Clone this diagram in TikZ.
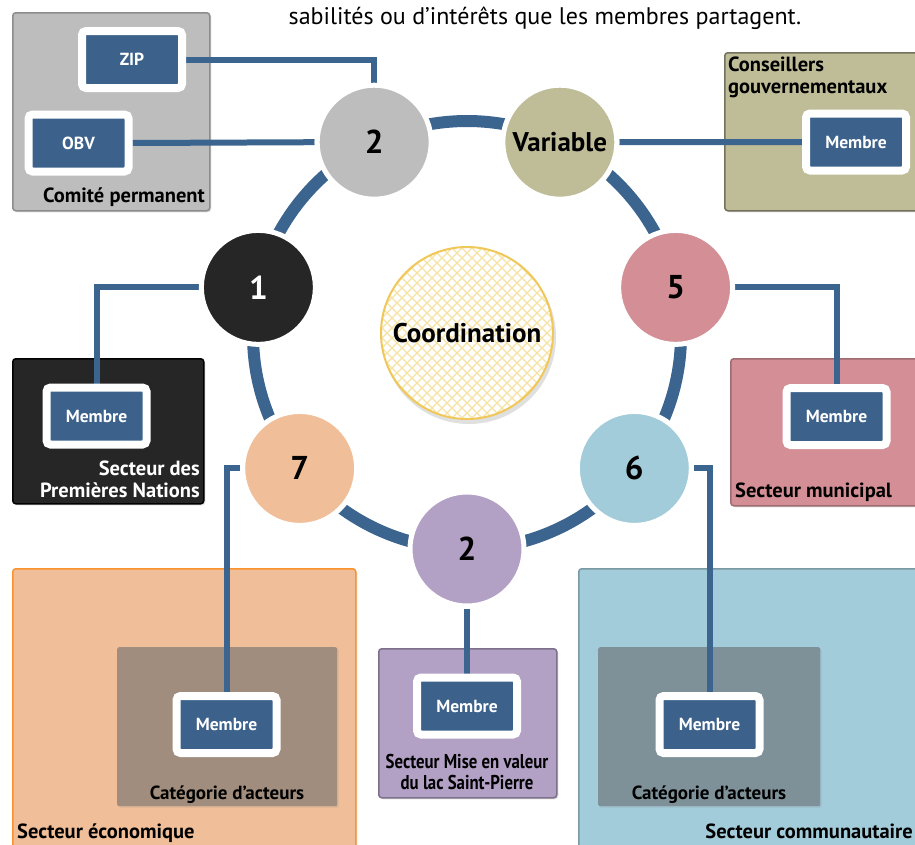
\documentclass[tikz,border=0pt]{standalone}
\usepackage{fontspec}
\setmainfont{PT Sans}
\newfontfamily\narrowfont[FakeStretch=0.84]{PT Sans}
\usetikzlibrary{shadows}
\definecolor{ringblue}{RGB}{59,100,142}
\definecolor{mblue}{RGB}{60,98,140}
\definecolor{cgray}{RGB}{189,189,189}
\definecolor{cvar}{RGB}{191,188,152}
\definecolor{cred}{RGB}{211,143,149}
\definecolor{cblue}{RGB}{163,204,218}
\definecolor{cpurple}{RGB}{179,160,197}
\definecolor{corange}{RGB}{240,191,153}
\definecolor{cblack}{RGB}{38,38,38}
\definecolor{catbrown}{RGB}{161,141,125}
\definecolor{catgray}{RGB}{126,145,153}
\definecolor{gold}{RGB}{240,200,90}
\definecolor{hatchc}{RGB}{246,226,165}
\pgfdeclarelayer{boxes}
\pgfdeclarelayer{lines}
\pgfsetlayers{boxes,lines,main}
\begin{document}
\begin{tikzpicture}[x=1pt,y=-1pt,
  secbox/.style={anchor=north west, inner sep=0pt, rounded corners=3pt, line width=1.5pt,
    drop shadow={opacity=.25, shadow xshift=1.5pt, shadow yshift=-1.5pt}},
  catbox/.style={anchor=north west, inner sep=0pt, rounded corners=2pt,
    drop shadow={opacity=.2, shadow xshift=1.5pt, shadow yshift=-1.5pt}},
  membre/.style={fill=mblue, draw=white, line width=8pt, rounded corners=4pt,
    minimum width=100pt, minimum height=57pt, inner sep=0pt, text=white,
    font=\bfseries\fontsize{17.5}{20}\selectfont,
    drop shadow={opacity=.25, shadow xshift=2pt, shadow yshift=-2pt}},
  rnode/.style={circle, draw=white, line width=5pt, minimum size=114pt, inner sep=0pt,
    font=\bfseries\fontsize{33}{35}\selectfont,
    drop shadow={opacity=.3, shadow xshift=1pt, shadow yshift=-2pt}},
  conn/.style={draw=ringblue, line width=6pt},
  lab/.style={inner sep=0pt, font=\bfseries\fontsize{20.5}{22}\selectfont},
  hatch/.style={draw=hatchc, line width=1.3pt}
]
\useasboundingbox (0,0) rectangle (915,844);
\clip (0,0) rectangle (915,844);

% top text
\node[anchor=base, inner sep=0pt, font=\fontsize{24}{28}\selectfont] (toptext) at (545,24)
  {sabilités ou d’intérêts que les membres partagent.};

% ---- sector boxes
\begin{pgfonlayer}{boxes}
\node[secbox, fill=cgray, draw=black!45, minimum width=197pt, minimum height=198pt] (comite) at (12,12) {};
\node[lab, anchor=base east] (comitelab) at (205,202) {Comité permanent};

\node[secbox, fill=cvar, draw=cvar!60!black, minimum width=210pt, minimum height=158pt] (conseil) at (724,52) {};
\node[lab, anchor=base west, align=left] (conseillab) at (728,93) {Conseillers\\gouvernementaux};

\node[secbox, fill=cblack, draw=black, minimum width=191pt, minimum height=145pt] (premieres) at (12,358) {};
\node[lab, anchor=base east, align=right, text=white] (premlab) at (200,497) {Secteur des\\Premières Nations};

\node[secbox, fill=cred, draw=cred!75!black, minimum width=200pt, minimum height=147pt] (munic) at (730,358) {};
\node[lab, anchor=base west] (municlab) at (735,497) {Secteur municipal};

\node[secbox, fill=corange, draw=orange!70!corange, minimum width=343pt, minimum height=300pt] (econ) at (12,568) {};
\node[catbox, fill=catbrown, minimum width=220pt, minimum height=159pt] (catecon) at (117,647) {};
\node[lab, anchor=base, font=\bfseries\fontsize{19}{22}\selectfont] (catecolab) at (227,799) {Catégorie d’acteurs};
\node[lab, anchor=base west] (econlab) at (17,838) {Secteur économique};

\node[secbox, fill=cpurple, draw=cpurple!70!black, minimum width=178pt, minimum height=149pt] (mise) at (378,648) {};
\node[lab, anchor=base, align=center, font=\narrowfont\bfseries\fontsize{20}{21}\selectfont] (miselab) at (467,789) {Secteur Mise en valeur\\du lac Saint-Pierre};

\node[secbox, fill=cblue, draw=cblue!75!black, minimum width=350pt, minimum height=300pt] (commu) at (578,568) {};
\node[catbox, fill=catgray, minimum width=222pt, minimum height=159pt] (catcommu) at (598,647) {};
\node[lab, anchor=base, font=\bfseries\fontsize{19}{22}\selectfont] (catcomlab) at (709,799) {Catégorie d’acteurs};
\node[lab, anchor=base east] (commulab) at (913,838) {Secteur communautaire};
\end{pgfonlayer}

% ---- ring
\begin{pgfonlayer}{lines}
\draw[ringblue, line width=12pt] (467,335) circle (214);
\end{pgfonlayer}

% ---- coordination
\fill[black, opacity=.12] (469,337) circle (87);
\begin{scope}
  \clip (467,333) circle (86);
  \fill[white] (467,333) circle (86);
  \foreach \i in {-260,-250,...,260} {
    \draw[hatch] (467+\i-100,233) -- (467+\i+100,433);
    \draw[hatch] (467+\i-100,433) -- (467+\i+100,233);
  }
\end{scope}
\node[circle, draw=gold, line width=2pt, minimum size=172pt, inner sep=0pt,
  font=\bfseries\fontsize{27}{30}\selectfont] (coord) at (467,333) {Coordination};

% ---- ring nodes
\begin{scope}[shift={(467,335)}]
\node[rnode, fill=cpurple] (c2b) at (90:214) {2};
\node[rnode, fill=cblue] (c6) at (38.57:214) {6};
\node[rnode, fill=cred] (c5) at (-12.86:214) {5};
\node[rnode, fill=cvar, font=\bfseries\fontsize{27}{30}\selectfont] (cv) at (-64.29:214) {Variable};
\node[rnode, fill=cgray] (c2) at (-115.71:214) {2};
\node[rnode, fill=cblack, text=white] (c1) at (-167.14:214) {1};
\node[rnode, fill=corange] (c7) at (141.43:214) {7};
\end{scope}

% ---- member boxes
\node[membre] (zip) at (132,59.5) {ZIP};
\node[membre] (obv) at (78.5,143) {OBV};
\node[membre] (mv) at (856,142) {Membre};
\node[membre] (m1) at (96.5,416) {Membre};
\node[membre] (m5) at (836.5,416.5) {Membre};
\node[membre] (m7) at (226.5,724.5) {Membre};
\node[membre] (m2b) at (467,706) {Membre};
\node[membre] (m6) at (709.5,724.5) {Membre};

% ---- connectors
\begin{pgfonlayer}{lines}
\draw[conn] (zip.east) -| (c2.north);
\draw[conn] (obv.east) -- (c2.west);
\draw[conn] (cv.east) -- (mv.west);
\draw[conn] (c1.west) -| (m1.north);
\draw[conn] (c5.east) -| (m5.north);
\draw[conn] (c7.west) -| (m7.north);
\draw[conn] (c6.east) -| (m6.north);
\draw[conn] (c2b.south) -- (m2b.north);
\end{pgfonlayer}
\end{tikzpicture}
\end{document}
